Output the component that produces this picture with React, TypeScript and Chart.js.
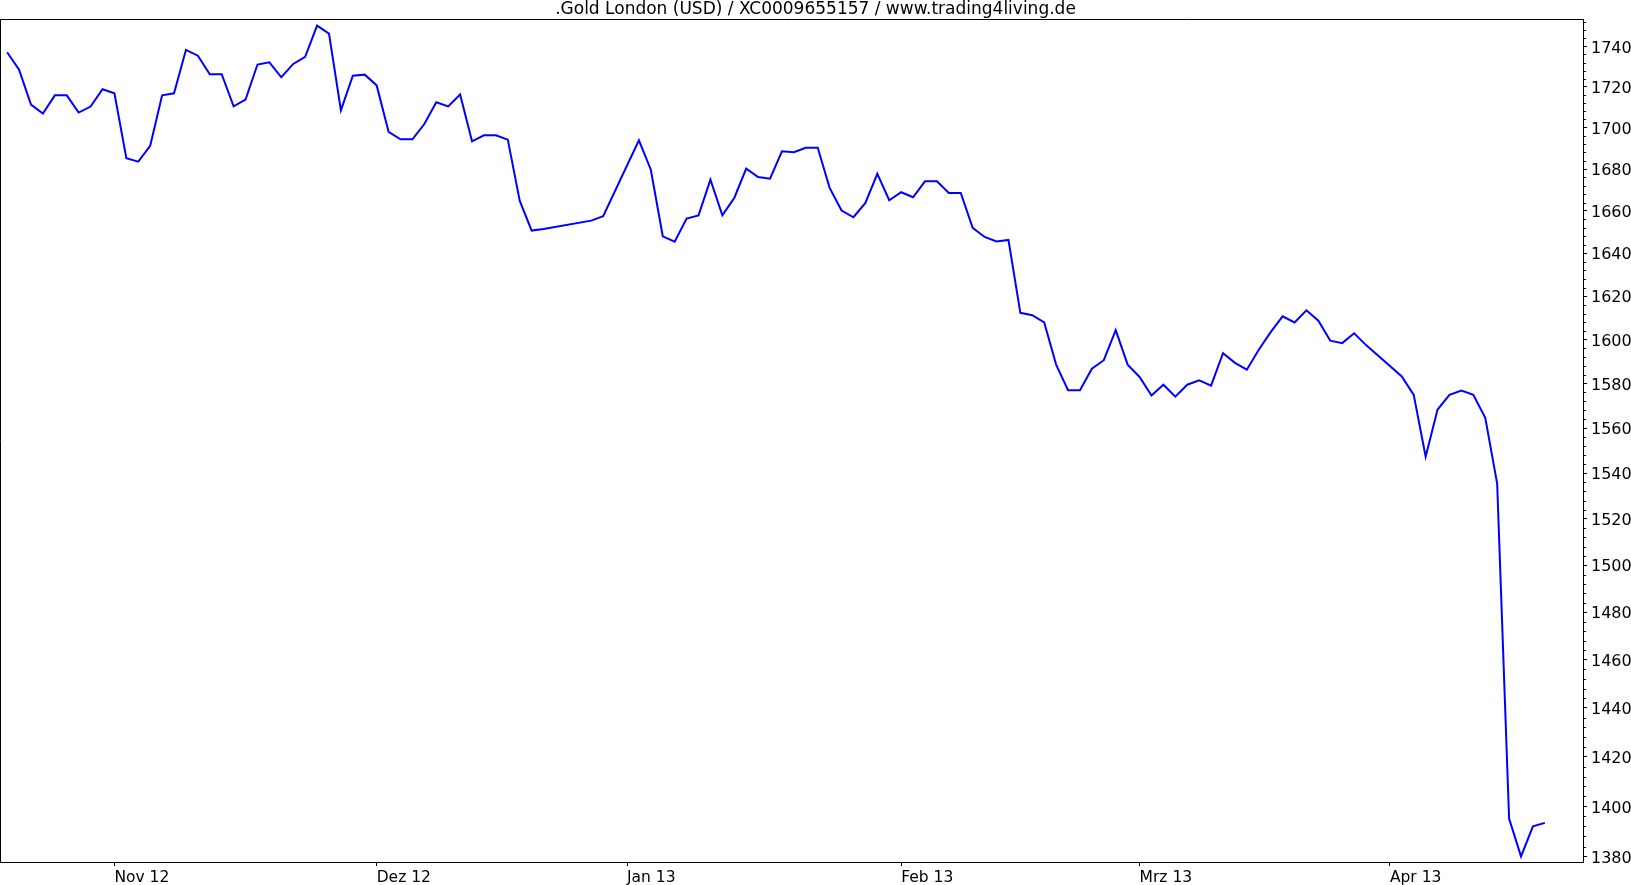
import React, { useEffect, useRef } from "react";
import { Chart, registerables } from "chart.js";

Chart.register(...registerables);

const TITLE = ".Gold London (USD) / XC0009655157 / www.trading4living.de";

// trading days (weekdays) shown on the x axis
const dates: string[] = [
  "2012-10-19", "2012-10-22", "2012-10-23", "2012-10-24", "2012-10-25", "2012-10-26", "2012-10-29", "2012-10-30", "2012-10-31",
  "2012-11-01", "2012-11-02", "2012-11-05", "2012-11-06", "2012-11-07", "2012-11-08", "2012-11-09", "2012-11-12", "2012-11-13",
  "2012-11-14", "2012-11-15", "2012-11-16", "2012-11-19", "2012-11-20", "2012-11-21", "2012-11-22", "2012-11-23", "2012-11-26",
  "2012-11-27", "2012-11-28", "2012-11-29", "2012-11-30",
  "2012-12-03", "2012-12-04", "2012-12-05", "2012-12-06", "2012-12-07", "2012-12-10", "2012-12-11", "2012-12-12", "2012-12-13",
  "2012-12-14", "2012-12-17", "2012-12-18", "2012-12-19", "2012-12-20", "2012-12-21", "2012-12-24", "2012-12-25", "2012-12-26",
  "2012-12-27", "2012-12-28", "2012-12-31",
  "2013-01-01", "2013-01-02", "2013-01-03", "2013-01-04", "2013-01-07", "2013-01-08", "2013-01-09", "2013-01-10", "2013-01-11",
  "2013-01-14", "2013-01-15", "2013-01-16", "2013-01-17", "2013-01-18", "2013-01-21", "2013-01-22", "2013-01-23", "2013-01-24",
  "2013-01-25", "2013-01-28", "2013-01-29", "2013-01-30", "2013-01-31",
  "2013-02-01", "2013-02-04", "2013-02-05", "2013-02-06", "2013-02-07", "2013-02-08", "2013-02-11", "2013-02-12", "2013-02-13",
  "2013-02-14", "2013-02-15", "2013-02-18", "2013-02-19", "2013-02-20", "2013-02-21", "2013-02-22", "2013-02-25", "2013-02-26",
  "2013-02-27", "2013-02-28",
  "2013-03-01", "2013-03-04", "2013-03-05", "2013-03-06", "2013-03-07", "2013-03-08", "2013-03-11", "2013-03-12", "2013-03-13",
  "2013-03-14", "2013-03-15", "2013-03-18", "2013-03-19", "2013-03-20", "2013-03-21", "2013-03-22", "2013-03-25", "2013-03-26",
  "2013-03-27", "2013-03-28", "2013-03-29",
  "2013-04-01", "2013-04-02", "2013-04-03", "2013-04-04", "2013-04-05", "2013-04-08", "2013-04-09", "2013-04-10", "2013-04-11",
  "2013-04-12", "2013-04-15", "2013-04-16", "2013-04-17", "2013-04-18",
];

// gold price (USD), null = no fixing that day
const prices: (number | null)[] = [
  1737.1, 1728.5, 1711.3, 1706.9, 1715.8, 1715.8, 1707.4, 1710.3, 1718.8,
  1716.8, 1685.2, 1683.6, 1691.2, 1715.8, 1716.8, 1738.3, 1735.4, 1726.2,
  1726.2, 1710.4, 1713.7, 1731.0, 1732.1, 1724.7, 1731.3, 1734.8, 1750.4,
  1746.4, 1708.5, 1725.5, 1726.0,
  1720.7, 1698.0, 1694.4, 1694.4, 1701.8, 1712.4, 1710.4, 1716.2, 1693.4,
  1696.3, 1696.3, 1694.2, 1664.9, 1650.7, 1651.4, null, null, null,
  1655.4, 1657.5, null,
  null, 1693.9, 1679.7, 1648.0, 1645.5, 1656.4, 1657.9, 1674.9, 1657.9,
  1666.2, 1680.2, 1676.2, 1675.4, 1688.6, 1688.1, 1690.3, 1690.3, 1671.0,
  1660.2, 1657.0, 1663.8, 1677.7, 1665.1,
  1668.9, 1666.5, 1674.1, 1674.1, 1668.6, 1668.6, 1652.0, 1647.7, 1645.6,
  1646.3, 1612.3, 1611.2, 1607.9, 1588.6, 1577.0, 1577.0, 1586.7, 1590.6,
  1604.3, 1588.6,
  1583.0, 1574.6, 1579.5, 1574.1, 1579.5, 1581.5, 1579.1, 1593.8, 1589.4,
  1586.3, 1595.4, 1603.4, 1610.7, 1607.9, 1613.5, 1608.7, 1599.5, 1598.4,
  1602.9, 1597.5, null,
  null, 1583.2, 1574.9, 1547.3, 1568.3, 1574.9, 1576.8, 1574.9, 1564.6,
  1535.4, 1395.1, 1380.1, 1392.0, 1393.4,
];

const monthNames = ["Jan", "Feb", "Mrz", "Apr", "Mai", "Jun", "Jul", "Aug", "Sep", "Okt", "Nov", "Dez"];

const yTicks = [
  1380, 1400, 1420, 1440, 1460, 1480, 1500, 1520, 1540, 1560,
  1580, 1600, 1620, 1640, 1660, 1680, 1700, 1720, 1740,
];
const yMinorStep = 4;

const Y_MIN = 1377.9;
const Y_MAX = 1753.7;
const X_MIN = -0.6;
const X_MAX = 132.2;

const FONT = "'DejaVu Sans', Verdana, sans-serif";

export default function App() {
  const ref = useRef<HTMLCanvasElement | null>(null);

  useEffect(() => {
    const canvas = ref.current;
    if (!canvas) return;

    const monthTicks: { pos: number; label: string }[] = [];
    dates.forEach((d, i) => {
      if (i > 0 && d.slice(5, 7) !== dates[i - 1].slice(5, 7)) {
        monthTicks.push({ pos: i, label: monthNames[parseInt(d.slice(5, 7), 10) - 1] + " " + d.slice(2, 4) });
      }
    });
    const labelMap = new Map<number, string>();
    monthTicks.forEach((t) => labelMap.set(t.pos, t.label));

    const points = prices.map((p, i) => ({ x: i, y: p }));

    const framePlugin = {
      id: "frame",
      afterDraw(chart: any) {
        const { ctx, chartArea } = chart;
        const ys = chart.scales.y;
        ctx.save();
        ctx.strokeStyle = "#000";
        ctx.lineWidth = 1;
        ctx.beginPath();
        const l = Math.round(chartArea.left) + 0.5;
        const t = Math.round(chartArea.top) + 0.5;
        ctx.moveTo(l, Math.round(chartArea.bottom));
        ctx.lineTo(l, t);
        ctx.lineTo(Math.round(chartArea.right), t);
        // minor ticks on the price axis
        const x0 = Math.round(chartArea.right);
        const start = Math.ceil(Y_MIN / yMinorStep) * yMinorStep;
        for (let v = start; v <= Y_MAX; v += yMinorStep) {
          if (v % 20 === 0) continue;
          const py = Math.round(ys.getPixelForValue(v)) + 0.5;
          ctx.moveTo(x0, py);
          ctx.lineTo(x0 + 3, py);
        }
        ctx.stroke();
        ctx.restore();
      },
    };

    const chart = new Chart(canvas, {
      type: "line",
      data: {
        datasets: [
          {
            label: "Gold London (USD)",
            data: points as any,
            borderColor: "#0000ff",
            borderWidth: 2,
            pointRadius: 0,
            tension: 0,
            spanGaps: true,
            fill: false,
          },
        ],
      },
      options: {
        animation: false,
        responsive: false,
        devicePixelRatio: 1,
        layout: { padding: 0 },
        events: [],
        plugins: {
          legend: { display: false },
          tooltip: { enabled: false },
          title: {
            display: true,
            text: TITLE,
            color: "#000",
            font: { family: FONT, size: 17, weight: "normal" as any, lineHeight: 19 / 17 },
            padding: { top: 0, bottom: 0 },
          },
        },
        scales: {
          x: {
            type: "linear",
            position: "bottom",
            min: X_MIN,
            max: X_MAX,
            bounds: "data",
            afterBuildTicks: (s: any) => {
              s.ticks = monthTicks.map((t) => ({ value: t.pos }));
            },
            afterFit: (s: any) => {
              s.height = 23;
            },
            ticks: {
              callback: (v: any) => labelMap.get(Number(v)) ?? "",
              align: "start",
              maxRotation: 0,
              autoSkip: false,
              color: "#000",
              padding: 3,
              font: { family: FONT, size: 15.5 },
            },
            grid: { drawOnChartArea: false, drawTicks: true, tickLength: 4, color: "#000" },
            border: { display: true, color: "#000", width: 1 },
          },
          y: {
            type: "logarithmic",
            position: "right",
            min: Y_MIN,
            max: Y_MAX,
            bounds: "data",
            afterBuildTicks: (s: any) => {
              s.ticks = yTicks.map((v) => ({ value: v }));
            },
            afterFit: (s: any) => {
              s.width = 48;
            },
            ticks: {
              callback: (v: any) => String(v),
              autoSkip: false,
              color: "#000",
              padding: 4,
              labelOffset: 2,
              font: { family: FONT, size: 16 },
            },
            grid: { drawOnChartArea: false, drawTicks: true, tickLength: 4, color: "#000" },
            border: { display: true, color: "#000", width: 1 },
          },
        },
      } as any,
      plugins: [framePlugin],
    });

    return () => chart.destroy();
  }, []);

  return (
    <div style={{ position: "fixed", left: 0, top: 0, width: 1631, height: 885, background: "#fff" }}>
      <canvas ref={ref} width={1631} height={885} style={{ width: 1631, height: 885, display: "block" }} />
    </div>
  );
}
